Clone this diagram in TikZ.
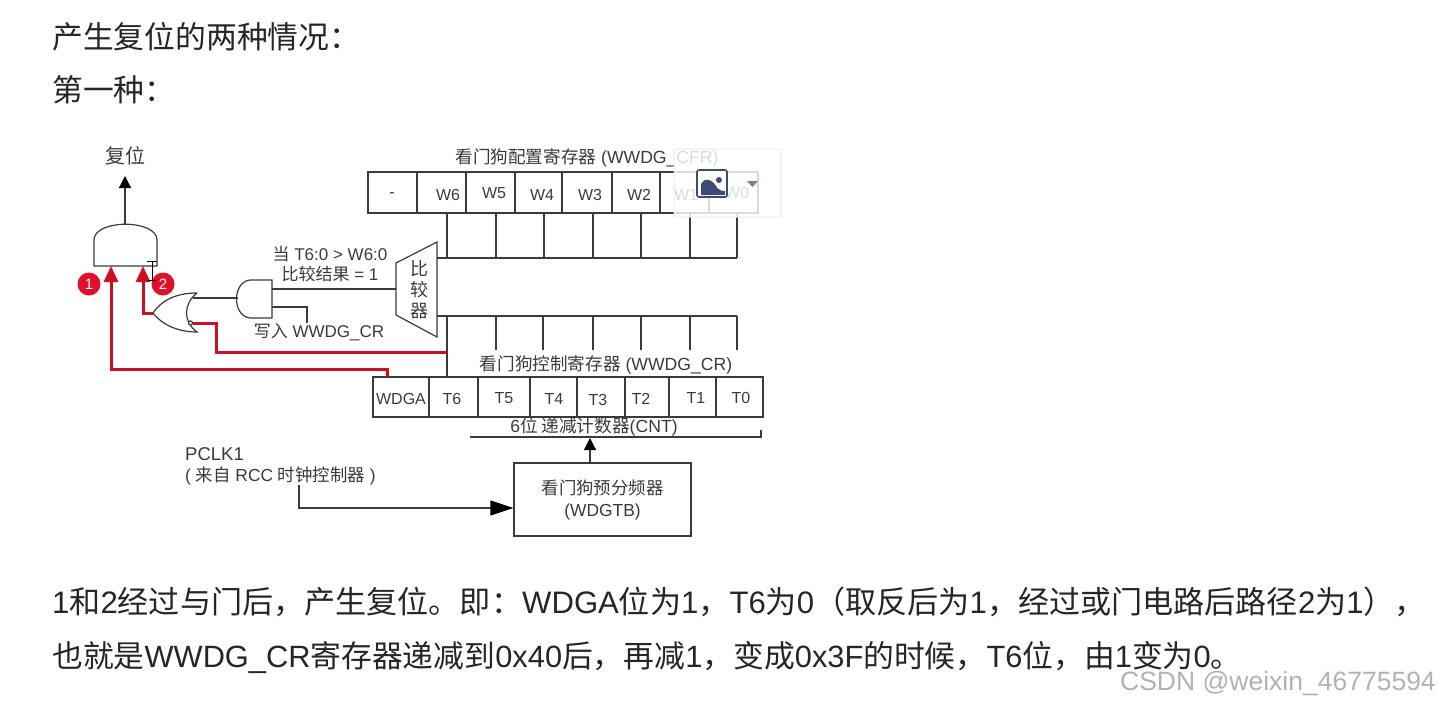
\documentclass[tikz,border=0pt]{standalone}
\usepackage{fontspec}
\setmainfont{Liberation Sans}
\newfontfamily\cjk{Noto Sans CJK SC}
\newcommand{\zh}[1]{{\cjk #1}}
\newcommand{\zcomma}{{\cjk\char"FF0C\relax}}
\newcommand{\zcolon}{{\cjk\char"FF1A\relax}}
\newcommand{\zleft}{{\cjk\char"FF08\relax}}
\newcommand{\zright}{{\cjk\char"FF09\relax}}
\usetikzlibrary{arrows.meta}
\definecolor{inkgray}{HTML}{3A3A3A}
\definecolor{redpath}{HTML}{CC0F22}
\definecolor{badgered}{HTML}{E0102A}
\definecolor{iconblue}{HTML}{3F4A75}
\tikzset{
  wire/.style={draw=inkgray,line width=1.2pt},
  redwire/.style={draw=redpath,line width=3pt},
  gate/.style={draw=inkgray,line width=1.2pt},
  bitcell/.style={draw=inkgray,line width=1.2pt,minimum height=41pt,inner sep=0pt,outer sep=0pt},
  bitlabel/.style={inner sep=0pt,text=inkgray,font=\fontsize{16}{16}\selectfont},
  smalltext/.style={inner sep=0pt,text=inkgray,font=\fontsize{17}{20}\selectfont,align=center},
  bodytext/.style={anchor=west,inner sep=0pt,text=black!85,font=\fontsize{30.8}{30.8}\selectfont},
  badge/.style={circle,fill=badgered,text=white,inner sep=0pt,minimum size=23pt,font=\fontsize{15}{15}\selectfont},
  blackhead/.style={-{Triangle[length=12pt,width=12pt,color=black]}},
  redhead/.style={-{Triangle[length=16pt,width=14pt,color=redpath]}},
}
\begin{document}
\begin{tikzpicture}[x=1pt,y=-1pt]
    \useasboundingbox (0,0) rectangle (1439,709);
    % Text around the diagram
    \node[bodytext] (head) at (52,37) {\zh{产生复位的两种情况}\zcolon};
    \node[bodytext] (first) at (52,90) {\zh{第一种}\zcolon};
    \node[bodytext,font=\fontsize{31.1}{31.1}\selectfont] (lineone) at (52,602) {1\zh{和}2\zh{经过与门后}\zcomma\zh{产生复位。即}\zcolon WDGA\zh{位为}1\zcomma T6\zh{为}0\zleft\zh{取反后为}1\zcomma\zh{经过或门电路后路径}2\zh{为}1\zright\zcomma};
    \node[bodytext] (linetwo) at (52,657) {\zh{也就是}WWDG\_CR\zh{寄存器递减到}0x40\zh{后}\zcomma\zh{再减}1\zcomma\zh{变成}0x3F\zh{的时候}\zcomma T6\zh{位}\zcomma\zh{由}1\zh{变为}0\zh{。}};
    % Config register
    \foreach \name/\xa/\xb/\lx/\ly/\txt in {dash/368/417/392/195/-,w6/417/466/448/195/W6,w5/466/515/494/193/W5,w4/515/562/542/195/W4,w3/562/612/590/195/W3,w2/612/660/639/195/W2,w1/660/709/686/195/W1,w0/709/758/737/193/W0} {
      \node[bitcell,minimum width={\xb-\xa}] (cell\name) at ({(\xa+\xb)/2},192.5) {};
      \node[bitlabel] (\name) at (\lx,\ly) {\txt};
    }
    \node[smalltext,font=\fontsize{17.6}{20}\selectfont] (cfgtitle) at (587,158) {\zh{看门狗配置寄存器} (WWDG\_CFR)};
    % Control register
    \foreach \name/\xa/\xb/\lx/\ly/\txt in {wdga/373/429/401/399/WDGA,t5/478/530/504/398/T5,t4/530/577/554/399/T4,t3/577/625/598/400/T3,t2/625/669/641/399/T2,t1/669/716/696/398/T1,t0/716/763/741/398/T0,t6/429/478/452/399/T6} {
      \node[bitcell,minimum height=40pt,minimum width={\xb-\xa}] (cell\name) at ({(\xa+\xb)/2},397) {};
      \node[bitlabel] (\name) at (\lx,\ly) {\txt};
    }
    \node[smalltext,font=\fontsize{17.6}{20}\selectfont] (crtitle) at (606,365) {\zh{看门狗控制寄存器} (WWDG\_CR)};
    % Comparator
    \coordinate (cmpnw) at (437,242); \coordinate (cmpsw) at (437,337);
    \coordinate (cmpne) at (396,263); \coordinate (cmpse) at (396,315);
    \draw[gate] (cmpnw) -- (cmpne) -- (cmpse) -- (cmpsw) -- cycle;
    \node[smalltext,font=\fontsize{18}{20}\selectfont] (cmp) at (419,290) {\zh{比}\\[1pt]\zh{较}\\[1pt]\zh{器}};
    % Buses
    \coordinate (busa) at (437,258); \coordinate (busb) at (737,258);
    \coordinate (busc) at (437,316); \coordinate (busd) at (737,316);
    \draw[wire] (busa) -- (busb);
    \draw[wire] (busc) -- (busd);
    \foreach \x [count=\i] in {447,496,544,593,641,690,737} {
      \coordinate (cfgtop\i) at (\x,213);
      \coordinate (cfgbus\i) at (\x,258);
      \draw[wire] (cfgtop\i) -- (cfgbus\i);
    }
    \foreach \x [count=\i] in {496,543,593,641,690,737} {
      \coordinate (crbus\i) at (\x,316);
      \coordinate (crend\i) at (\x,350);
      \draw[wire] (crbus\i) -- (crend\i);
    }
    \coordinate (crbust) at (447,316);
    \coordinate (crt) at (447,377);
    \draw[wire] (crbust) -- (crt);
    % Gates
    \draw[gate] (94,266) -- (94,240) .. controls (94,219) and (157,219) .. (157,240) -- (157,266) -- cycle;
    \coordinate (andout) at (125,224);
    \coordinate (resetend) at (125,176);
    \draw[wire,blackhead] (andout) -- (resetend);
    \node[smalltext,font=\fontsize{20}{20}\selectfont] (reset) at (125,156) {\zh{复位}};
    \draw[gate] (272,280) -- (250,280) .. controls (232,282) and (232,316) .. (250,318) -- (272,318) -- cycle;
    \coordinate (smallin) at (238,298);
    \coordinate (smalla) at (272,289);
    \coordinate (smallb) at (272,307);
    \coordinate (writeend) at (307,323);
    \draw[wire] (cmpne |- smalla) -- (smalla);
    \draw[wire] (smallb) -- (writeend |- smallb) -- (writeend);
    \draw[gate] (197,293) .. controls (180,293) and (163,298) .. (153,313) .. controls (163,326) and (180,332) .. (197,332)
      .. controls (183,322) and (183,304) .. (197,293);
    \coordinate (orin) at (193,298);
    \draw[wire] (orin) -- (smallin);
    \node[circle,gate,fill=white,minimum size=4pt,inner sep=0pt] (notdot) at (190.5,323) {};
    % Red paths
    \coordinate (ortip) at (153,313);
    \coordinate (tiptwo) at (143,266);
    \coordinate (tipone) at (111,266);
    \coordinate (redt) at (447,352);
    \coordinate (redw) at (387,377);
    \draw[redwire,redhead] (ortip) -- (tiptwo |- ortip) -- (tiptwo);
    \draw[redwire] (notdot) -- (216,323) -- (216,352) -- (redt);
    \draw[redwire,redhead] (redw) -- (387,369) -- (111,369) -- (tipone);
    \node[badge] (one) at (89,284) {1};
    \node[badge] (two) at (163,284) {2};
    % Cursor
    \draw[black,line width=1pt] (147,261) -- (157,261) (152,261) -- (152,280) (147,280) -- (157,280);
    % Counter and prescaler
    \coordinate (cnta) at (470,437); \coordinate (cntb) at (761,437); \coordinate (cntc) at (761,430);
    \draw[wire] (cnta) -- (cntb) -- (cntc);
    \node[smalltext,font=\fontsize{17.6}{20}\selectfont] (cnt) at (594,426.5) {6\zh{位 递减计数器}(CNT)};
    \node[draw=inkgray,line width=1.2pt,minimum width=177pt,minimum height=73pt,inner sep=0pt,align=center,text=inkgray,font=\fontsize{17.4}{22}\selectfont] (prescaler) at (602.5,499.5) {\zh{看门狗预分频器}\\(WDGTB)};
    \coordinate (cntin) at (590,438);
    \draw[wire,blackhead] (prescaler.north -| cntin) -- (cntin);
    \node[smalltext,anchor=west,font=\fontsize{18.5}{18.5}\selectfont] (pclk) at (185,454) {PCLK1};
    \node[smalltext,anchor=west,font=\fontsize{17.4}{18}\selectfont] (rcc) at (185,476) {( \zh{来自} RCC \zh{时钟控制器} )};
    \coordinate (pclkstart) at (299,485);
    \draw[wire,-{Triangle[length=23pt,width=15pt,color=black]}] (pclkstart) |- (prescaler.west |- 0,508);
    \node[smalltext] (writecr) at (319,332) {\zh{写入} WWDG\_CR};
    \node[smalltext] (cmplabel) at (330,264) {\zh{当} T6:0 > W6:0\\\zh{比较结果} = 1};
    % Image widget on top
    \draw[rounded corners=2pt,draw=black!8,fill=white,fill opacity=.82,line width=1pt] (674,149) rectangle (781,217);
    \draw[draw=iconblue,fill=white,rounded corners=2pt,line width=1.6pt] (697,170) rectangle (727,197);
    \fill[iconblue] (701,195) -- (701,184) .. controls (706,176) and (712,180) .. (716,186) .. controls (718,190) and (722,191) .. (725,191) -- (725,195) -- cycle;
    \fill[iconblue] (719,180) circle (3);
    \fill[iconblue!70] (747,181) -- (758,181) -- (752.5,187) -- cycle;
    % Watermark
    \node[anchor=east,inner sep=0pt,text=black!30,font=\fontsize{26.5}{26.5}\selectfont] (mark) at (1436,684) {CSDN @weixin\_46775594};
\end{tikzpicture}
\end{document}
